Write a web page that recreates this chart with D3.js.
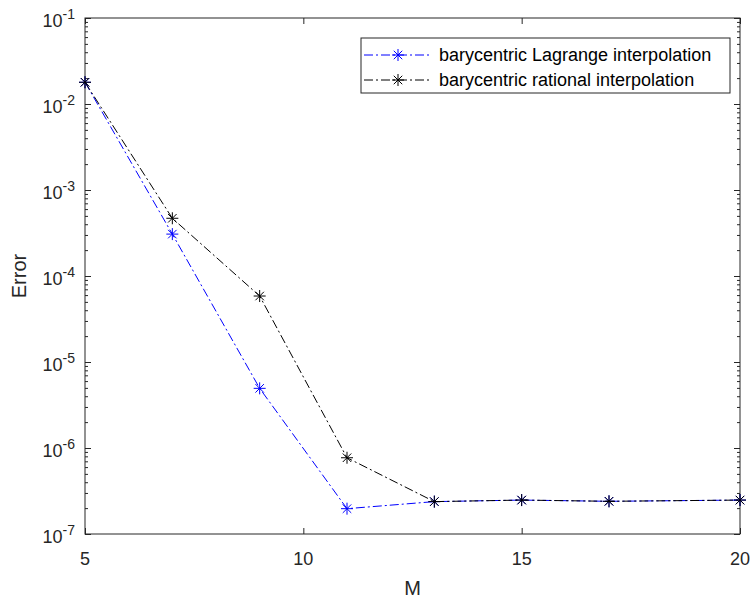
<!DOCTYPE html>
<html>
<head>
<meta charset="utf-8">
<script src="https://cdn.jsdelivr.net/npm/d3@7"></script>
<style>
  html, body { margin: 0; padding: 0; background: #fff; }
  svg { display: block; font-family: "Liberation Sans", Arial, sans-serif; }
</style>
</head>
<body>
<svg id="chart" width="751" height="598"></svg>
<script>
// ---- data ----
const mValues = [5, 7, 9, 11, 13, 15, 17, 20];
const lagrangeErr = [1.79e-2, 3.07e-4, 4.94e-6, 1.97e-7, 2.38e-7, 2.48e-7, 2.40e-7, 2.48e-7];
const rationalErr = [1.79e-2, 4.69e-4, 5.85e-5, 7.7e-7, 2.38e-7, 2.48e-7, 2.40e-7, 2.48e-7];
const seriesNames = ["barycentric Lagrange interpolation", "barycentric rational interpolation"];
const xTicks = [5, 10, 15, 20];
const yExponents = [-7, -6, -5, -4, -3, -2, -1];
const xLabel = "M";
const yLabel = "Error";

// ---- layout ----
const L = 85, R = 740, T = 18, B = 534;
const axisColor = "#262626";
const svg = d3.select("#chart");

const x = d3.scaleLinear().domain([5, 20]).range([L, R]);
const y = d3.scaleLog().domain([1e-7, 1e-1]).range([B, T]);

const majorY = yExponents.map(e => Math.pow(10, e));
const minorY = [];
for (let e = -7; e < -1; e++) for (let k = 2; k <= 9; k++) minorY.push(k * Math.pow(10, e));

// tick axes (inward)
function styleAxis(g) {
  g.select(".domain").remove();
  g.selectAll("line").attr("stroke", axisColor).attr("stroke-width", 1);
  g.selectAll("text").remove();
}
svg.append("g").attr("transform", `translate(0,${B})`)
  .call(d3.axisBottom(x).tickValues(xTicks).tickSize(-6)).call(styleAxis);
svg.append("g").attr("transform", `translate(0,${T})`)
  .call(d3.axisTop(x).tickValues(xTicks).tickSize(-6)).call(styleAxis);
svg.append("g").attr("transform", `translate(${L},0)`)
  .call(d3.axisLeft(y).tickValues(majorY).tickSize(-6)).call(styleAxis);
svg.append("g").attr("transform", `translate(${R},0)`)
  .call(d3.axisRight(y).tickValues(majorY).tickSize(-6)).call(styleAxis);
svg.append("g").attr("transform", `translate(${L},0)`)
  .call(d3.axisLeft(y).tickValues(minorY).tickSize(-3)).call(styleAxis);
svg.append("g").attr("transform", `translate(${R},0)`)
  .call(d3.axisRight(y).tickValues(minorY).tickSize(-3)).call(styleAxis);

// box
svg.append("rect").attr("x", L).attr("y", T).attr("width", R - L).attr("height", B - T)
  .attr("fill", "none").attr("stroke", axisColor).attr("stroke-width", 1);

// x tick labels
svg.append("g").selectAll("text").data(xTicks).join("text")
  .attr("x", d => x(d)).attr("y", 565)
  .attr("text-anchor", "middle").attr("font-size", 18).attr("fill", axisColor)
  .text(d => d);

// y tick labels with superscripts
const yl = svg.append("g").selectAll("text").data(yExponents).join("text")
  .attr("x", 75).attr("y", d => y(Math.pow(10, d)) + 9)
  .attr("text-anchor", "end").attr("fill", axisColor);
yl.append("tspan").attr("font-size", 18).text("10");
yl.append("tspan").attr("font-size", 14).attr("dy", -8).text(d => String(d));

// axis labels
svg.append("text").attr("x", (L + R) / 2).attr("y", 595)
  .attr("text-anchor", "middle").attr("font-size", 20).attr("fill", axisColor).text(xLabel);
svg.append("text").attr("transform", `translate(26,${(T + B) / 2}) rotate(-90)`)
  .attr("text-anchor", "middle").attr("font-size", 20).attr("fill", axisColor).text(yLabel);

// series
const dash = "9,3,2,3";
function star(g, cx, cy, r, color) {
  const d = r * 0.7071;
  const p = `M${cx - r},${cy}L${cx + r},${cy}M${cx},${cy - r}L${cx},${cy + r}` +
            `M${cx - d},${cy - d}L${cx + d},${cy + d}M${cx - d},${cy + d}L${cx + d},${cy - d}`;
  g.append("path").attr("d", p).attr("stroke", color).attr("stroke-width", 1).attr("fill", "none");
}
const series = [
  { name: seriesNames[0], vals: lagrangeErr, color: "#0000ff" },
  { name: seriesNames[1], vals: rationalErr, color: "#000000" }
];
const line = d3.line().x(d => x(d[0])).y(d => y(d[1]));
series.forEach(s => {
  const pts = mValues.map((m, i) => [m, s.vals[i]]);
  const g = svg.append("g");
  g.append("path").attr("d", line(pts)).attr("fill", "none")
    .attr("stroke", s.color).attr("stroke-width", 1).attr("stroke-dasharray", dash);
  pts.forEach(p => star(g, x(p[0]), y(p[1]), 6, s.color));
});

// legend
const lg = svg.append("g");
lg.append("rect").attr("x", 361).attr("y", 38).attr("width", 369).attr("height", 55)
  .attr("fill", "#fff").attr("stroke", axisColor).attr("stroke-width", 1);
series.forEach((s, i) => {
  const cy = 55 + i * 25;
  lg.append("line").attr("x1", 364).attr("x2", 432).attr("y1", cy).attr("y2", cy)
    .attr("stroke", s.color).attr("stroke-width", 1).attr("stroke-dasharray", dash);
  star(lg, 398, cy, 6, s.color);
  lg.append("text").attr("x", 439).attr("y", cy + 6).attr("font-size", 18)
    .attr("fill", "#000").text(s.name);
});
</script>
</body>
</html>
